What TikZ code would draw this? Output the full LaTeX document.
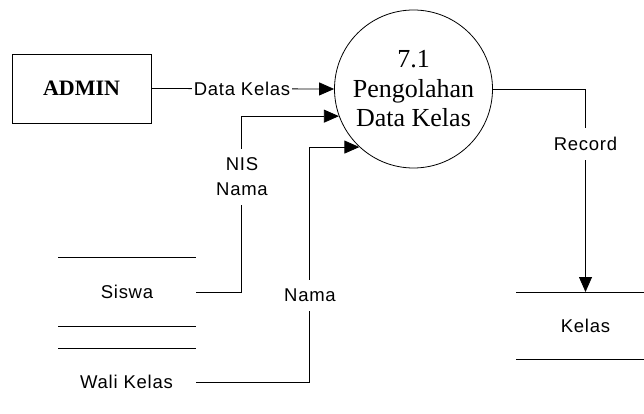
\documentclass[tikz,border=0pt]{standalone}
\usepackage{fontspec}
\setmainfont{Liberation Serif}
\newfontfamily\lbl{Liberation Sans}[LetterSpace=4]
\usetikzlibrary{arrows.meta,calc}
\begin{document}
\begin{tikzpicture}[x=1pt,y=-1pt,
  line width=0.8pt,
  entity/.style={draw,minimum width=139pt,minimum height=69pt,inner sep=0pt,
    font=\fontsize{22}{26}\selectfont\bfseries},
  process/.style={draw,circle,minimum size=158pt,inner sep=0pt,align=center,
    font=\fontsize{26}{29.5}\selectfont},
  storetext/.style={font=\lbl\fontsize{18.5}{25}\selectfont,inner sep=0pt},
  flowlabel/.style={font=\lbl\fontsize{18.5}{25}\selectfont,fill=white,
    inner xsep=2pt,inner ysep=9pt,align=center},
  flow/.style={-{Triangle[length=15pt,width=13pt]}},
  storeline/.style={line width=0.9pt}]
\useasboundingbox (0,0) rectangle (644,414);

% external entity and process
\node[entity] (admin) at (81.5,88.5) {ADMIN};
\node[process] (p) at (413.5,89) {7.1\\Pengolahan\\Data Kelas};

% data stores
\draw[storeline] (58,257) -- (196,257) (58,326) -- (196,326);
\node[storetext] (siswa) at (127,292) {Siswa};
\coordinate (siswaR) at (196,292);

\draw[storeline] (58,348) -- (196,348);
\node[storetext] (wali) at (126.5,382) {Wali Kelas};
\coordinate (waliR) at (196,382);

\draw[storeline] (516,292) -- (644,292) (516,359) -- (644,359);
\node[storetext] (kelas) at (585.5,325.5) {Kelas};
\coordinate (kelasT) at (585.5,292);

% data flows
\draw[flow] (admin.east) -- (p.west);
\node[flowlabel] at (242,89) {Data Kelas};

\draw[flow] (siswaR) -| ([xshift=-97.3pt]p.200) -- (p.200);
\node[flowlabel] at (242,177) {NIS\\Nama};

\draw[flow] (waliR) -| ([xshift=-49.9pt]p.227.2) -- (p.227.2);
\node[flowlabel] at (310,295.5) {Nama};

\draw[flow] (p.east) -| (kelasT);
\node[flowlabel] at (585.5,144) {Record};
\end{tikzpicture}
\end{document}
